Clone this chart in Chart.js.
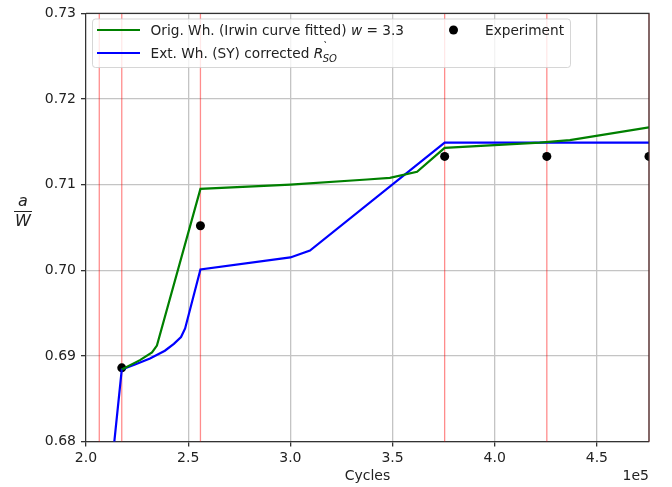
<!DOCTYPE html>
<html>
<head>
<meta charset="utf-8">
<script src="https://cdn.jsdelivr.net/npm/chart.js@4/dist/chart.umd.min.js"></script>
<style>
  html, body { margin: 0; padding: 0; background: #fff; }
  canvas { display: block; }
</style>
</head>
<body>
<canvas id="c" width="672" height="487"></canvas>
<script>
// curve data (cycles, a/W)
const greenX = [217500, 226400, 232300, 234700, 256000, 300000, 337500, 348700, 362000, 375500, 422000, 436800, 475500];
const greenY = [0.6884, 0.6895, 0.6904, 0.6912, 0.7095, 0.7100, 0.7106, 0.7108, 0.7115, 0.7143, 0.7149, 0.7152, 0.7167];

const blueX = [213000, 217500, 224000, 231300, 238600, 243000, 246500, 248500, 256000, 300000, 309600, 375500, 475500];
const blueY = [0.6780, 0.6884, 0.6890, 0.6897, 0.6906, 0.6914, 0.6922, 0.6932, 0.7001, 0.7015, 0.7023, 0.7149, 0.7149];

const expX = [217500, 256000, 375500, 425500, 475500];
const expY = [0.6886, 0.7052, 0.7133, 0.7133, 0.7133];

// red vertical markers
const markerX = [206500, 217500, 256000, 375500, 425500, 475500];

const xTicks = [200000, 250000, 300000, 350000, 400000, 450000];
const yTicks = [0.68, 0.69, 0.70, 0.71, 0.72, 0.73];

const FONT = '"DejaVu Sans", sans-serif';

const toPts = (xs, ys) => xs.map((x, i) => ({ x: x, y: ys[i] }));

// draws red lines, spines, legend and axis texts
const extras = {
  id: 'extras',
  beforeDatasetsDraw(chart) {
    const { ctx, chartArea: a, scales: { x } } = chart;
    ctx.save();
    ctx.strokeStyle = 'rgba(255,0,0,0.45)';
    ctx.lineWidth = 1.3;
    markerX.forEach(v => {
      const px = x.getPixelForValue(v);
      ctx.beginPath();
      ctx.moveTo(px, a.top);
      ctx.lineTo(px, a.bottom);
      ctx.stroke();
    });
    ctx.restore();
  },
  afterDraw(chart) {
    const { ctx, chartArea: a } = chart;
    ctx.save();
    // top and right spines
    ctx.strokeStyle = '#333';
    ctx.lineWidth = 1.2;
    ctx.beginPath();
    ctx.moveTo(a.left, a.top);
    ctx.lineTo(a.right, a.top);
    ctx.lineTo(a.right, a.bottom);
    ctx.stroke();

    // legend
    const lx = 92.5, ly = 19, lw = 478, lh = 48.5;
    ctx.fillStyle = 'rgba(255,255,255,0.8)';
    ctx.strokeStyle = 'rgba(204,204,204,0.8)';
    ctx.lineWidth = 1;
    ctx.beginPath();
    ctx.roundRect(lx, ly, lw, lh, 3);
    ctx.fill();
    ctx.stroke();

    const fs = 13.7;
    const reg = fs + 'px ' + FONT;
    const ita = 'oblique ' + fs + 'px ' + FONT;
    const r1 = 30, r2 = 53;

    ctx.lineWidth = 2.2;
    ctx.strokeStyle = 'green';
    ctx.beginPath(); ctx.moveTo(97, r1); ctx.lineTo(140, r1); ctx.stroke();
    ctx.strokeStyle = 'blue';
    ctx.beginPath(); ctx.moveTo(97, r2); ctx.lineTo(140, r2); ctx.stroke();

    ctx.fillStyle = '#000';
    ctx.beginPath(); ctx.arc(453.5, r1, 4.5, 0, Math.PI * 2); ctx.fill();

    ctx.fillStyle = '#222';
    ctx.textBaseline = 'alphabetic';
    ctx.textAlign = 'left';
    let tx = 150.5;
    const b1 = r1 + 5, b2 = r2 + 5;
    ctx.font = reg;
    let s = 'Orig. Wh. (Irwin curve fitted) ';
    ctx.fillText(s, tx, b1); tx += ctx.measureText(s).width;
    ctx.font = ita; ctx.fillText('w', tx, b1); tx += ctx.measureText('w').width;
    ctx.font = reg; ctx.fillText(' = 3.3', tx, b1);
    ctx.fillText('Experiment', 485, b1);

    tx = 150.5;
    s = 'Ext. Wh. (SY) corrected ';
    ctx.fillText(s, tx, b2); tx += ctx.measureText(s).width;
    ctx.font = ita; ctx.fillText('R', tx, b2); tx += ctx.measureText('R').width;
    ctx.font = 'oblique 10px ' + FONT;
    ctx.fillText('`', tx - 1, b2 - 8);
    ctx.fillText('SO', tx - 0.5, b2 + 3.5);

    // y axis label a / W
    ctx.textAlign = 'center';
    ctx.textBaseline = 'middle';
    ctx.font = 'oblique 16px ' + FONT;
    ctx.fillText('a', 23, 202);
    ctx.fillText('W', 23, 222);
    ctx.strokeStyle = '#222';
    ctx.lineWidth = 1;
    ctx.beginPath(); ctx.moveTo(14, 211.5); ctx.lineTo(32, 211.5); ctx.stroke();

    // x axis label and offset
    ctx.font = '14px ' + FONT;
    ctx.fillText('Cycles', (a.left + a.right) / 2, 476.5);
    ctx.textAlign = 'right';
    ctx.fillText('1e5', a.right, 476.5);
    ctx.restore();
  }
};

new Chart(document.getElementById('c'), {
  type: 'line',
  data: {
    datasets: [
      {
        data: toPts(greenX, greenY),
        borderColor: 'green', borderWidth: 2.2, pointRadius: 0, tension: 0, fill: false
      },
      {
        data: toPts(blueX, blueY),
        borderColor: 'blue', borderWidth: 2.2, pointRadius: 0, tension: 0, fill: false
      },
      {
        data: toPts(expX, expY),
        showLine: false, pointRadius: 4.5, pointBackgroundColor: '#000',
        pointBorderWidth: 0, borderColor: '#000'
      }
    ]
  },
  options: {
    responsive: false,
    animation: false,
    devicePixelRatio: 1,
    layout: { padding: { left: 0, right: 23, top: 12, bottom: 0 } },
    plugins: { legend: { display: false }, tooltip: { enabled: false } },
    scales: {
      x: {
        type: 'linear',
        min: 200000,
        max: 475500,
        afterBuildTicks: s => { s.ticks = xTicks.map(v => ({ value: v })); },
        afterFit: s => { s.height = 45.5; },
        ticks: {
          callback: v => (v / 1e5).toFixed(1),
          font: { family: FONT, size: 14 }, color: '#222', padding: 3, maxRotation: 0
        },
        grid: { color: '#c4c4c4', lineWidth: 1.3, tickLength: 5, tickColor: '#333' },
        border: { color: '#333', width: 1.2 }
      },
      y: {
        min: 0.68,
        max: 0.73,
        afterBuildTicks: s => { s.ticks = yTicks.map(v => ({ value: v })); },
        afterFit: s => { s.width = 86; },
        ticks: {
          callback: v => v.toFixed(2),
          font: { family: FONT, size: 14 }, color: '#222', padding: 5
        },
        grid: { color: '#c4c4c4', lineWidth: 1.3, tickLength: 5, tickColor: '#333' },
        border: { color: '#333', width: 1.2 }
      }
    }
  },
  plugins: [extras]
});
</script>
</body>
</html>
